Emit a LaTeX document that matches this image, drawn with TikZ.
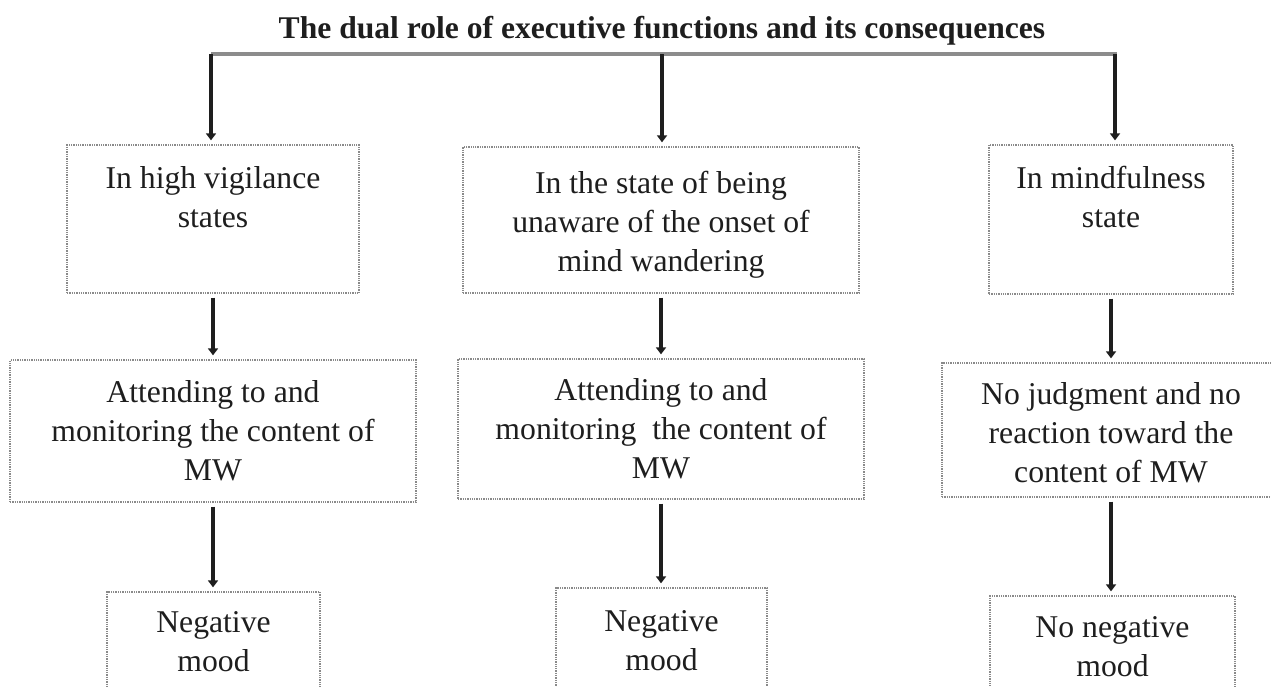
\documentclass[tikz,border=0pt]{standalone}
\usepackage{fontspec}
\setmainfont{Liberation Serif}
\usetikzlibrary{arrows.meta}
\definecolor{linegray}{HTML}{8C8C8C}
\definecolor{boxgray}{HTML}{8A8A8A}
\definecolor{inkcol}{HTML}{1E1E1E}
\begin{document}
\begin{tikzpicture}[x=1pt,y=-1pt,
  box/.style={draw=boxgray, densely dotted, line width=1.3pt, inner sep=0pt},
  txt/.style={anchor=north, align=center, inner sep=0pt, text=inkcol,
              font=\fontsize{31.7}{39}\selectfont},
  arr/.style={draw=inkcol, line width=3.8pt, -{Triangle[width=10pt,length=7pt]},
              shorten <=4pt, shorten >=4pt},
  hline/.style={draw=linegray, line width=4pt}]
\useasboundingbox (0,0) rectangle (1271,686);

% title
\node[anchor=base, inner sep=0pt, text=inkcol,
      font=\fontsize{31.6}{36}\selectfont\bfseries] (title) at (662,38)
      {The dual role of executive functions and its consequences};

% top bar coordinates
\coordinate (t1) at (211,54);
\coordinate (t2) at (662,54);
\coordinate (t3) at (1115,54);
\coordinate (t3a) at (1117,54);
\draw[hline] (t1) -- (t3a);

% boxes row 1
\node[box, minimum width=292pt, minimum height=148pt] (b1a) at (213,219) {};
\node[box, minimum width=396pt, minimum height=146pt] (b2a) at (661,220) {};
\node[box, minimum width=244pt, minimum height=149pt] (b3a) at (1111,219.5) {};
% boxes row 2
\node[box, minimum width=406pt, minimum height=142pt] (b1b) at (213,431) {};
\node[box, minimum width=406pt, minimum height=140pt] (b2b) at (661,429) {};
\node[box, minimum width=338pt, minimum height=134pt] (b3b) at (1111,430) {};
% boxes row 3
\node[box, minimum width=213pt, minimum height=108pt] (b1c) at (213.5,646) {};
\node[box, minimum width=211pt, minimum height=112pt] (b2c) at (661.5,644) {};
\node[box, minimum width=245pt, minimum height=104pt] (b3c) at (1112.5,648) {};

% texts
\node[txt] (l1a) at (213,166) {In high vigilance\\states};
\node[txt] (l2a) at (661,171) {In the state of being\\unaware of the onset of\\mind wandering};
\node[txt] (l3a) at (1111,166) {In mindfulness\\state};
\node[txt] (l1b) at (213,380) {Attending to and\\monitoring the content of\\MW};
\node[txt] (l2b) at (661,378) {Attending to and\\monitoring\ \ the content of\\MW};
\node[txt] (l3b) at (1111,382) {No judgment and no\\reaction toward the\\content of MW};
\node[txt] (l1c) at (213.5,611) {Negative\\mood};
\node[txt] (l2c) at (661.5,610) {Negative\\mood};
\node[txt] (l3c) at (1112.5,616) {No negative\\mood};

% arrows from bar
\draw[arr, shorten <=0pt] (t1) -- (t1 |- b1a.north);
\draw[arr, shorten <=0pt] (t2) -- (t2 |- b2a.north);
\draw[arr, shorten <=0pt] (t3) -- (t3 |- b3a.north);
% arrows row 1 -> row 2
\draw[arr] (b1a.south) -- (b1a.south |- b1b.north);
\draw[arr] (b2a.south) -- (b2a.south |- b2b.north);
\draw[arr] (b3a.south) -- (b3a.south |- b3b.north);
% arrows row 2 -> row 3
\draw[arr] (b1b.south) -- (b1b.south |- b1c.north);
\draw[arr] (b2b.south) -- (b2b.south |- b2c.north);
\draw[arr] (b3b.south) -- (b3b.south |- b3c.north);
\end{tikzpicture}
\end{document}
